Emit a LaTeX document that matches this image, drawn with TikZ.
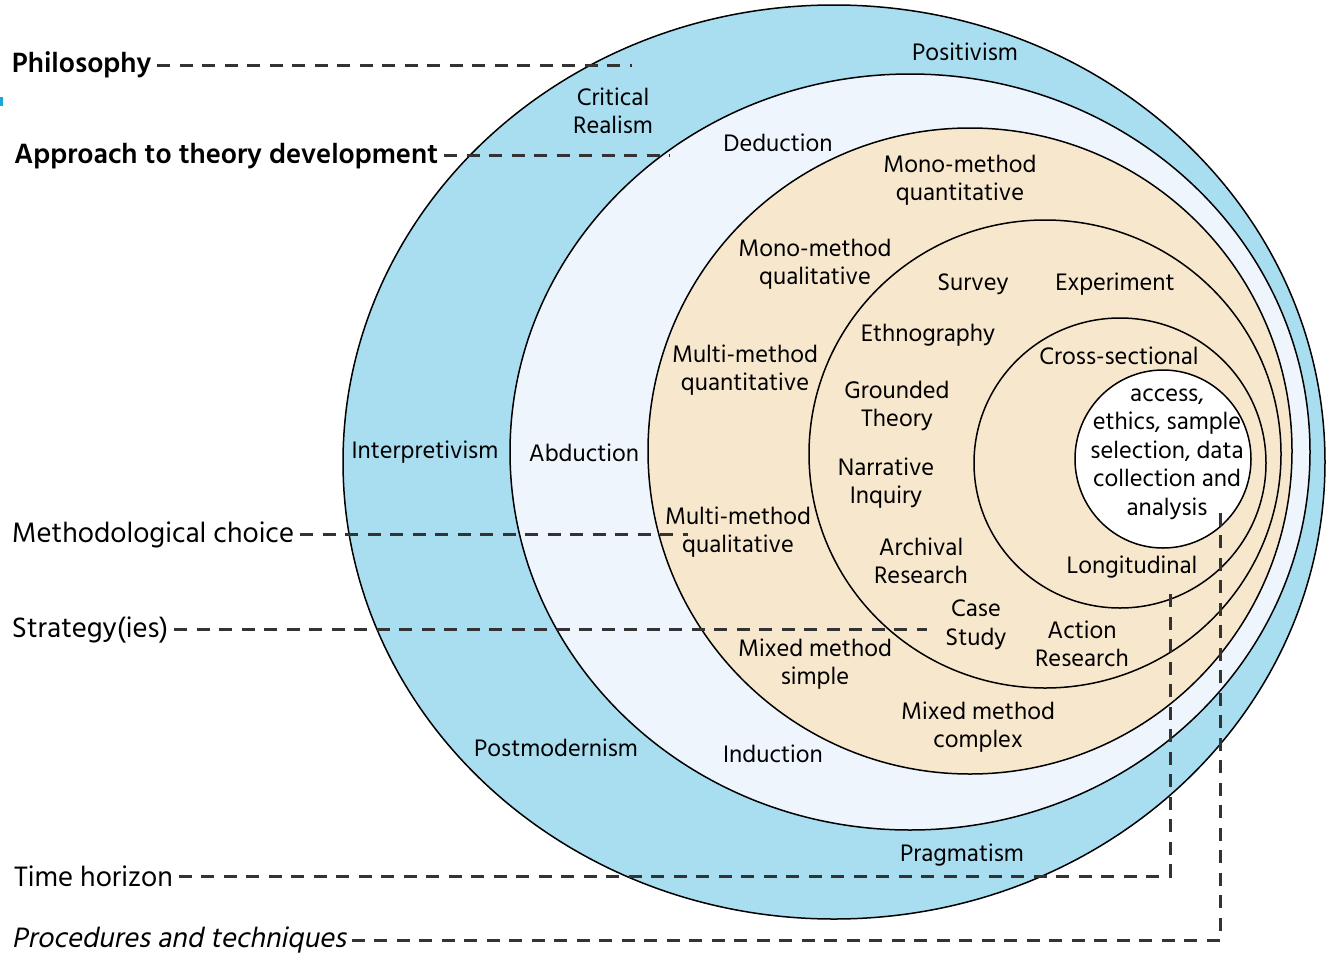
\documentclass[tikz,border=0pt]{standalone}
\usepackage{fontspec}
\setmainfont{Hind Madurai}[AutoFakeSlant=0.2]
\usepackage{tikz}

\definecolor{philoblue}{HTML}{A9DEF1}
\definecolor{approachblue}{HTML}{EEF5FD}
\definecolor{choicesand}{HTML}{F7E7CD}
\definecolor{guidegray}{HTML}{333333}
\definecolor{markcyan}{HTML}{1BA8D8}

\tikzset{
	ring/.style={draw=black,line width=1.5pt},
	guide/.style={draw=guidegray,line width=3pt,dash pattern=on 13pt off 9.5pt},
	layer/.style={anchor=base west,inner sep=0pt,outer sep=6pt,font=\fontsize{28.8}{32}\selectfont},
	layerbold/.style={layer,font=\fontsize{28.6}{32}\selectfont\bfseries},
	ringlabel/.style={align=center,inner sep=0pt,font=\fontsize{24.5}{28.5}\selectfont},
}

\begin{document}
\begin{tikzpicture}[x=1pt,y=-1pt]
	\useasboundingbox (0,0) rectangle (1326,956);
	\fill[markcyan] (0,97) rectangle (3,106);
	
	\foreach \cx/\cy/\rx/\ry/\col in {834/462/491/457/philoblue,910/452/400/378/approachblue,970/451/322/323/choicesand,1045/454/236/234/choicesand,1120/463/146/145/choicesand,1163/459/88/89/white}
	\draw [ring,fill=\col] (\cx,\cy) ellipse [x radius=\rx pt,y radius=\ry pt];
	
	\node (philo) [layerbold] at (6,72) {Philosophy};
	\node (approach) [layerbold] at (8,163) {Approach to theory development};
	\node (choice) [layer] at (6,542) {Methodological choice};
	\node (strategy) [layer] at (6,637) {Strategy(ies)};
	\node (time) [layer] at (8,886) {Time horizon};
	\node (proc) [layer,font=\fontsize{28.8}{32}\selectfont\itshape] at (6,947) {Procedures and techniques};
	
	\coordinate (philo end) at (632,65);
	\coordinate (approach end) at (670,155);
	\coordinate (choice end) at (688,534);
	\coordinate (strategy end) at (927,629);
	\coordinate (time corner) at (1170,876);
	\coordinate (time end) at (1170,588);
	\coordinate (proc corner) at (1220,940);
	\coordinate (proc end) at (1220,513);
	
	\draw [guide] (philo.east |- philo end) -- (philo end);
	\draw [guide] (approach.east |- approach end) -- (approach end);
	\draw [guide] (choice.east |- choice end) -- (choice end);
	\draw [guide] (strategy.east |- strategy end) -- (strategy end);
	\draw [guide] (time.east |- time corner) -- (time corner) -- (time end);
	\draw [guide] (proc.east |- proc corner) -- (proc corner) -- (proc end);
	
	% philosophy ring
	\node (positivism) [ringlabel] at (965,52) {Positivism};
	\node (realism) [ringlabel] at (613,111) {Critical\\Realism};
	\node (interpretivism) [ringlabel] at (425,452) {Interpretivism};
	\node (postmodernism) [ringlabel] at (556,748) {Postmodernism};
	\node (pragmatism) [ringlabel] at (962,855) {Pragmatism};
	
	% approach ring
	\node (deduction) [ringlabel] at (778,143) {Deduction};
	\node (abduction) [ringlabel] at (584,453) {Abduction};
	\node (induction) [ringlabel] at (773,754) {Induction};
	
	% methodological choice ring
	\node (mono quan) [ringlabel] at (960,180) {Mono-method\\quantitative};
	\node (mono qual) [ringlabel] at (815,264) {Mono-method\\qualitative};
	\node (multi quan) [ringlabel] at (745,370) {Multi-method\\quantitative};
	\node (multi qual) [ringlabel] at (738,532) {Multi-method\\qualitative};
	\node (mixed simple) [ringlabel] at (815,664) {Mixed method\\simple};
	\node (mixed complex) [ringlabel] at (978,727) {Mixed method\\complex};
	
	% strategies ring
	\node (survey) [ringlabel] at (973,284) {Survey};
	\node (experiment) [ringlabel] at (1115,284) {Experiment};
	\node (ethnography) [ringlabel] at (928,335) {Ethnography};
	\node (grounded) [ringlabel] at (897,406) {Grounded\\Theory};
	\node (narrative) [ringlabel] at (886,483) {Narrative\\Inquiry};
	\node (archival) [ringlabel] at (921,561) {Archival\\Research};
	\node (case) [ringlabel] at (976,625) {Case\\Study};
	\node (action) [ringlabel] at (1082,644) {Action\\Research};
	
	% time horizon ring
	\node (cross) [ringlabel] at (1119,356) {Cross-sectional};
	\node (longitudinal) [ringlabel] at (1132,567) {Longitudinal};
	
	% core
	\node (core) [ringlabel] at (1167,454) {access,\\ethics, sample\\selection, data\\collection and\\analysis};
\end{tikzpicture}
\end{document}
